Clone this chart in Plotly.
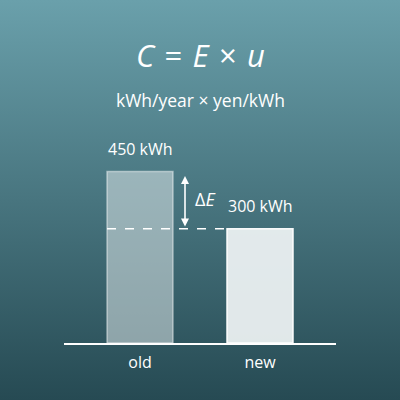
import plotly.graph_objects as go

# data
categories = ["old", "new"]
energy_kwh = [450, 300]
bar_labels = ["450 kWh", "300 kWh"]
title_text = "<i>C</i> = <i>E</i> × <i>u</i>"
subtitle_text = "kWh/year × yen/kWh"

FONT = "Open Sans"
xpos = list(range(len(categories)))

fig = go.Figure()

# background gradient, drawn on its own full-page axes
fig.add_trace(go.Scatter(
    x=[0, 1, 1, 0, 0], y=[0, 0, 1, 1, 0],
    mode="none", fill="toself",
    fillgradient=dict(type="vertical",
                      colorscale=[[0, "#264a53"], [1, "#6aa0ab"]]),
    hoverinfo="skip", showlegend=False,
    xaxis="x", yaxis="y"))

fig.add_trace(go.Bar(
    x=xpos, y=energy_kwh, width=0.55,
    marker=dict(color=["rgba(220,230,232,0.55)", "rgba(240,244,245,0.92)"],
                line=dict(color=["rgba(255,255,255,0.45)", "rgba(255,255,255,0.95)"], width=1.5)),
    hoverinfo="skip", showlegend=False,
    xaxis="x2", yaxis="y2"))

# dashed reference at the new value
fig.add_shape(type="line", xref="x2", yref="y2",
              x0=xpos[0] - 0.275, x1=xpos[1] - 0.275,
              y0=energy_kwh[1], y1=energy_kwh[1],
              line=dict(color="white", width=1.5, dash="dash"))

# double-headed arrow for the saving
fig.add_annotation(xref="x2", yref="y2", axref="x2", ayref="y2",
                   x=0.375, y=energy_kwh[1] + 6,
                   ax=0.375, ay=energy_kwh[0] - 8,
                   text="", showarrow=True, arrowside="end+start",
                   arrowhead=2, arrowsize=1, arrowwidth=1.6, arrowcolor="white")
fig.add_annotation(xref="x2", yref="y2", x=0.54, y=(energy_kwh[0] + energy_kwh[1]) / 2 + 3,
                   text="Δ<i>E</i>", showarrow=False,
                   font=dict(family=FONT, size=18, color="white"))

for xi, v, lab in zip(xpos, energy_kwh, bar_labels):
    fig.add_annotation(xref="x2", yref="y2", x=xi, y=v, yanchor="bottom", yshift=10,
                       text=lab, showarrow=False,
                       font=dict(family=FONT, size=16, color="white"))

fig.add_annotation(xref="paper", yref="paper", x=0.5, y=1 - 55 / 400,
                   xanchor="center", yanchor="middle",
                   text=title_text.replace(" ", "\u2004"), showarrow=False,
                   font=dict(family=FONT, size=31, color="white"))
fig.add_annotation(xref="paper", yref="paper", x=0.5, y=1 - 100 / 400,
                   xanchor="center", yanchor="middle",
                   text=subtitle_text, showarrow=False,
                   font=dict(family=FONT, size=17.5, color="white"))

fig.update_layout(
    width=400, height=400,
    margin=dict(l=0, r=0, t=0, b=0),
    paper_bgcolor="#487680",
    plot_bgcolor="rgba(0,0,0,0)",
    xaxis=dict(domain=[0, 1], range=[0, 1], visible=False, fixedrange=True),
    yaxis=dict(domain=[0, 1], range=[0, 1], visible=False, fixedrange=True),
    xaxis2=dict(domain=[64 / 400, 336 / 400], range=[-0.6333, 1.6333],
                anchor="y2", tickvals=xpos, ticktext=categories,
                showline=True, linecolor="white", linewidth=2,
                showgrid=False, zeroline=False,
                ticks="outside", ticklen=4, tickcolor="rgba(0,0,0,0)",
                tickfont=dict(family=FONT, size=16, color="white")),
    yaxis2=dict(domain=[57 / 400, 1], range=[0, 900], anchor="x2",
                visible=False, showgrid=False, zeroline=False),
)

fig.write_html("out.html", config={"displayModeBar": False},
               post_script="document.body.style.margin='0';document.body.style.overflow='hidden';")
